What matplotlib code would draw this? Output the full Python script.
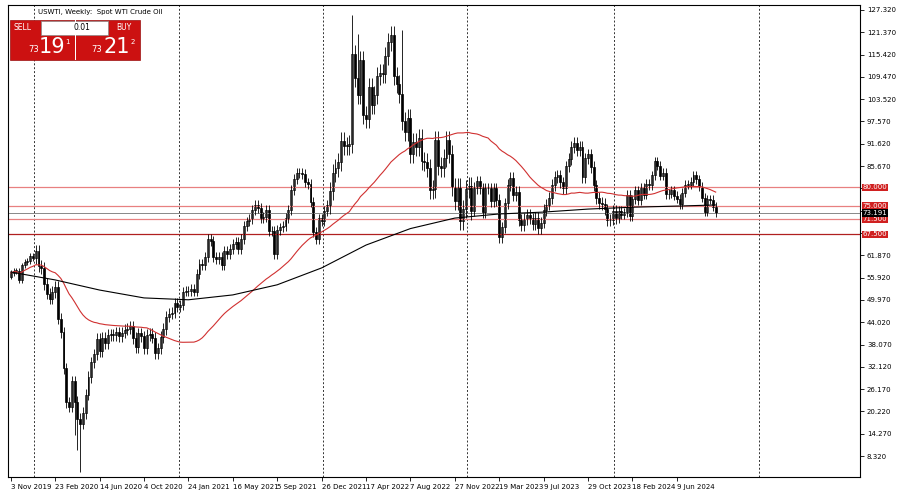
import numpy as np
import pandas as pd
import matplotlib
matplotlib.use("Agg")
import matplotlib.pyplot as plt
from matplotlib.patches import Rectangle

# weekly closes, 3 Nov 2019 .. Aug 2024
closes = [57.2, 57.7, 57.8, 55.2,
          59.2, 60.1, 60.4, 61.7, 61.1,
          63.1, 59.0, 58.5, 54.2, 51.6,  # 2020
          50.3, 52.1, 53.4, 45.0,
          41.3, 31.7, 22.6, 21.5,
          28.3, 22.8, 18.3, 16.9,
          19.8, 24.7, 29.4, 33.3, 35.5,
          39.6, 36.3, 39.8, 38.5,
          40.6, 40.6, 40.6, 41.3, 40.3,
          41.2, 42.0, 42.3, 42.9,
          39.8, 37.3, 41.1, 40.3,
          37.1, 40.6, 40.9, 39.9, 35.8,
          37.1, 40.1, 42.2, 45.5,
          46.3, 46.6, 49.1, 48.2, 48.5,
          52.2, 52.4, 52.3, 52.8, 52.2,  # 2021
          56.9, 59.5, 59.2, 61.5,
          66.1, 65.6, 61.4, 60.9,
          61.5, 59.3, 63.1, 62.1, 63.6,
          64.9, 65.4, 63.6, 66.3,
          69.6, 70.9, 71.6, 74.0,
          75.2, 74.6, 71.8, 72.1, 73.9,
          68.3, 68.4, 62.3, 68.7,
          69.3, 69.7, 71.9, 73.9,
          79.3, 82.3, 83.8, 83.8, 83.6,
          81.3, 80.8, 76.1, 68.2,
          66.2, 71.7, 70.9, 73.8, 75.2,
          78.9, 83.8, 85.1, 86.8,  # 2022
          92.3, 91.1, 91.1, 91.6,
          115.7, 109.3, 104.7, 113.9, 99.3,
          98.3, 106.9, 102.1, 104.7,
          109.8, 110.5, 110.3, 115.1,
          118.9, 120.7, 109.6, 107.6,
          104.8, 97.6, 94.7, 98.6,
          89.0, 92.1, 90.8, 93.1,
          86.9, 86.8, 85.1, 79.4, 79.5,
          92.6, 85.6, 85.1, 87.9,
          92.6, 89.0, 80.1, 76.3,
          80.0, 71.0, 74.3, 79.6, 80.3,
          73.8, 79.9, 81.6, 79.7,  # 2023
          73.4, 79.7, 79.7, 76.3,
          79.7, 76.7, 66.7, 69.3, 75.7,
          80.7, 82.5, 77.9, 78.8,
          71.3, 70.0, 71.6, 72.7,
          71.7, 70.2, 71.8, 69.2, 70.6,
          73.9, 75.4, 77.1, 80.6,
          82.8, 83.2, 81.3, 79.8, 85.6,
          87.5, 90.8, 91.8, 90.0,
          90.8, 82.8, 87.7, 88.8, 85.5,
          80.5, 77.2, 75.9, 75.5,
          74.1, 71.2, 71.4, 73.6, 71.7,
          73.8, 72.7, 73.4, 78.0,  # 2024
          72.3, 76.8, 79.2, 76.5,
          80.0, 78.0, 81.0, 80.6, 83.2,
          86.9, 85.7, 83.1, 83.9,
          78.1, 78.3, 79.2, 77.7, 77.0,
          75.5, 78.5, 80.7, 80.7, 81.5,
          83.2, 82.2, 80.1, 77.2,
          73.5, 76.8, 76.7, 74.8, 73.2]
first_open = 56.2
wick_by_year = {2019: 1.2, 2020: 2.5, 2021: 2.2, 2022: 4.0, 2023: 2.6, 2024: 2.0}
year_start = [0, 9, 62, 115, 167, 219]
low_override = {25: 4.0, 24: 10.0, 23: 14.0}
high_override = {123: 126.0, 125: 121.0, 141: 122.0}

# 200-period MA, read every 16 weeks
ma_slow_x = [0, 16, 32, 48, 64, 80, 96, 112, 128, 144, 160, 176, 192, 208, 224, 240, 254]
ma_slow = [57.4, 55.3, 52.6, 50.5, 50.0, 51.3, 54.0, 58.5, 64.6, 69.0, 71.8, 72.9, 73.4,
           74.2, 74.7, 75.0, 75.3]

tick_labels = ["3 Nov 2019", "23 Feb 2020", "14 Jun 2020", "4 Oct 2020", "24 Jan 2021",
               "16 May 2021", "5 Sep 2021", "26 Dec 2021", "17 Apr 2022", "7 Aug 2022",
               "27 Nov 2022", "19 Mar 2023", "9 Jul 2023", "29 Oct 2023", "18 Feb 2024",
               "9 Jun 2024"]
levels = [80.0, 75.0, 71.5, 67.5]
level_colors = ["#e88080", "#e88080", "#e88080", "#b02020"]
last_price = 73.191
year_seps = [8.5, 60.5, 112.5, 164.5, 217.5, 269.5]

n = len(closes)
opens = [first_open] + closes[:-1]
years = np.searchsorted(year_start, np.arange(n), side="right") - 1
wk = [wick_by_year[2019 + y] for y in years]
highs = [high_override.get(i, max(o, c) + w * 0.6) for i, (o, c, w) in enumerate(zip(opens, closes, wk))]
lows = [low_override.get(i, min(o, c) - w * 0.6) for i, (o, c, w) in enumerate(zip(opens, closes, wk))]
ma_fast = pd.Series(closes).rolling(50, min_periods=1).mean()

fig = plt.figure(figsize=(9.01, 4.96), dpi=100)
ax = fig.add_axes([8 / 901, 1 - 477 / 496, 852 / 901, 472 / 496])
ax.set_xlim(-1, 306)
ax.set_ylim(2.72, 128.65)

for xs in year_seps:
    ax.axvline(xs, color="#333333", lw=0.7, ls=(0, (2, 2)))
for lv, col in zip(levels, level_colors):
    ax.axhline(lv, color=col, lw=0.9)
ax.axhline(last_price, color="#888888", lw=0.7)

x = np.arange(n)
ax.vlines(x, lows, highs, color="black", lw=0.6)
for i in range(n):
    o, c = opens[i], closes[i]
    up = c >= o
    ax.add_patch(Rectangle((i - 0.35, min(o, c)), 0.7, max(abs(c - o), 0.15),
                           facecolor="white" if up else "black", edgecolor="black", lw=0.5))

ax.plot(x, ma_fast, color="#d03030", lw=0.8)
ax.plot(ma_slow_x, ma_slow, color="black", lw=0.8)

yt = [127.32 - 5.95 * k for k in range(21)]
ax.yaxis.tick_right()
ax.set_yticks(yt)
# labels hidden behind the level markers
ax.set_yticklabels(["" if min(abs(v - l) for l in levels + [last_price]) < 3 else "%.3f" % v
                    for v in yt], fontsize=5)
ax.set_xticks(np.arange(0, 16 * len(tick_labels), 16))
ax.set_xticklabels(tick_labels, fontsize=5, ha="left")
ax.tick_params(length=3, width=0.6, pad=2)
for s in ax.spines.values():
    s.set_linewidth(0.8)

for lv in levels:
    ax.text(1.003, lv, "%.3f" % lv, transform=ax.get_yaxis_transform(), fontsize=5,
            color="white", va="center", ha="left",
            bbox=dict(boxstyle="square,pad=0.1", fc="#d02020", ec="none"))
ax.text(1.003, last_price, "%.3f" % last_price, transform=ax.get_yaxis_transform(), fontsize=5,
        color="white", va="center", ha="left",
        bbox=dict(boxstyle="square,pad=0.1", fc="black", ec="none"))

# trade panel at top left
def px(xp, yp):
    return xp / 901, 1 - yp / 496

fig.text(*px(38, 12), "USWTI, Weekly:  Spot WTI Crude Oil", fontsize=5, va="center")
fig.patches.append(Rectangle(px(10, 60), 130 / 901, 40 / 496, transform=fig.transFigure,
                             fc="#cc1111", ec="#991111", lw=0.5))
fig.patches.append(Rectangle(px(41, 35), 67 / 901, 14 / 496, transform=fig.transFigure,
                             fc="white", ec="#888888", lw=0.5))
fig.patches.append(Rectangle(px(75, 60), 1 / 901, 40 / 496, transform=fig.transFigure,
                             fc="#ffffff", ec="none"))
fig.text(*px(23, 28), "SELL", fontsize=5.5, color="white", ha="center", va="center")
fig.text(*px(124, 28), "BUY", fontsize=5.5, color="white", ha="center", va="center")
fig.text(*px(90, 28), "0.01", fontsize=5.5, ha="right", va="center")
fig.text(*px(34, 50), "73", fontsize=6, color="white", ha="center", va="center")
fig.text(*px(52, 47), "19", fontsize=15, color="white", ha="center", va="center")
fig.text(*px(67, 42), "1", fontsize=5, color="white", ha="center", va="center")
fig.text(*px(97, 50), "73", fontsize=6, color="white", ha="center", va="center")
fig.text(*px(117, 47), "21", fontsize=15, color="white", ha="center", va="center")
fig.text(*px(133, 42), "2", fontsize=5, color="white", ha="center", va="center")

fig.savefig("out.png", dpi=100)
